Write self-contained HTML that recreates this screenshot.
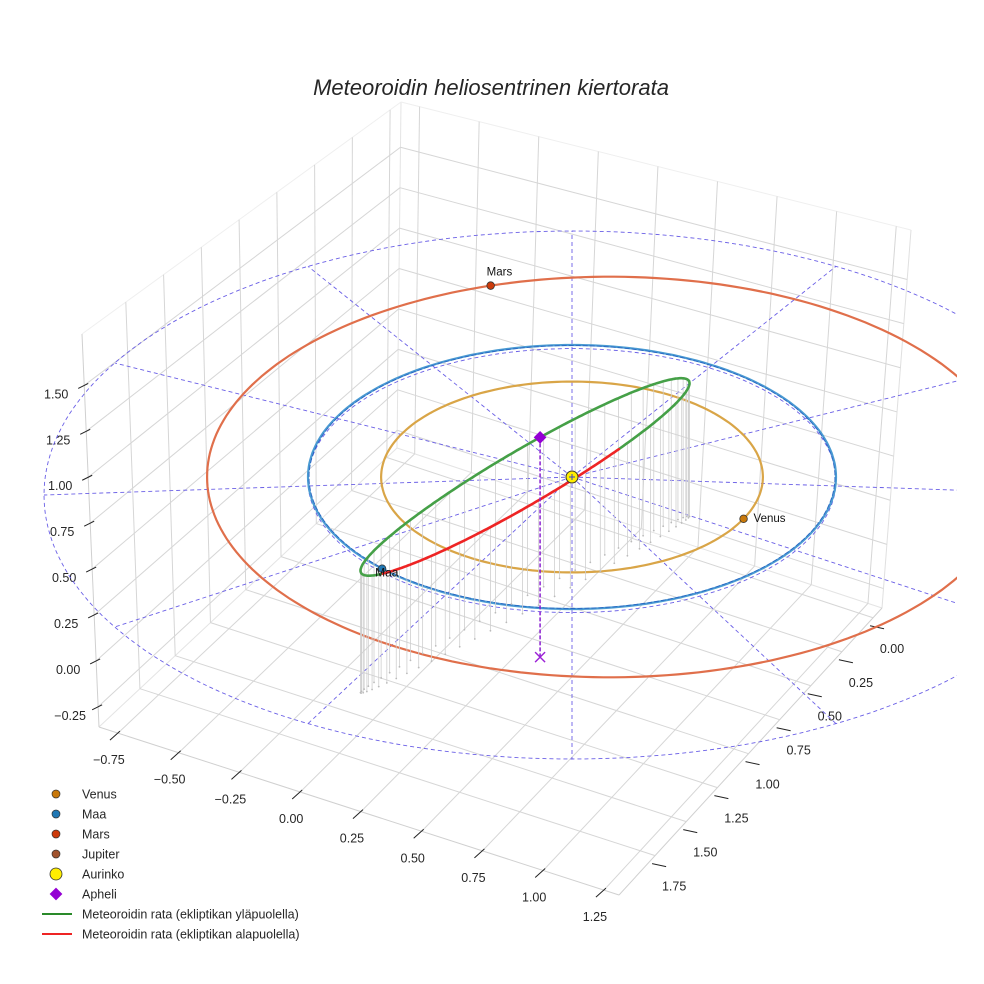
<!DOCTYPE html>
<html><head><meta charset="utf-8"><style>
html,body{margin:0;padding:0;background:#fff;}
svg{display:block;font-family:"Liberation Sans",sans-serif;}
</style></head><body>
<svg id="chart" width="984" height="984" viewBox="0 0 984 984" xmlns="http://www.w3.org/2000/svg">
<defs><clipPath id="plotclip"><rect x="0" y="60" width="957" height="924"/></clipPath></defs>
<text x="491" y="95" text-anchor="middle" font-size="22" font-style="italic" fill="#262626">Meteoroidin heliosentrinen kiertorata</text>
<g id="box"></g>
<g id="scene" clip-path="url(#plotclip)"></g>
<g id="legend"></g>
</svg>
<script>
// ---- data ----
const xTicks = [-0.75,-0.5,-0.25,0,0.25,0.5,0.75,1,1.25];
const yTicks = [0,0.25,0.5,0.75,1,1.25,1.5,1.75];
const zTicks = [-0.25,0,0.25,0.5,0.75,1,1.25,1.5];
const planetNames = ["Venus","Maa","Mars"];
const planetA = [0.723,1.0,1.524];          // semi-major axes (AU)
const planetE = [0.0,0.0,0.093];            // eccentricities
const planetAngleDeg = [26,136,-102];       // current heliocentric angle
const refRadius = [2.0,1.0];                // dashed reference circles
const refZ = [-0.1,-0.02];
const radialAnglesDeg = [0,30,60,90,120,150,180,210,240,270,300,330];
// meteoroid orbit: centre, axis A, axis B (AU, 3D)
const metCenter = [-0.178,0.121,0.089];
const metAxisA = [0.621,-0.671,0.041];
const metAxisB = [0.0515,0.004,-0.1265];
const aphelionT = -80; // deg parameter of aphelion
const floorZ = -0.62;

const NS="http://www.w3.org/2000/svg";
function mk(parent,tag,attrs){const e=document.createElementNS(NS,tag);for(const k in attrs)e.setAttribute(k,attrs[k]);parent.appendChild(e);return e;}

// ---- box axis function (trilinear on projected corners) ----
const X0=-0.828,X1=1.312,Y0=-0.072,Y1=2.04,Z0=-0.36,Z1=1.78;
const C={ '000':[397,448],'010':[99,727],'100':[882,608],'110':[619,895],
          '001':[401,102],'011':[82,334],'101':[911,230],'111':[605,468]};
function B(x,y,z){
  const u=(x-X0)/(X1-X0),v=(y-Y0)/(Y1-Y0),w=(z-Z0)/(Z1-Z0);
  let px=0,py=0;
  for(const a of [0,1])for(const b of [0,1])for(const c of [0,1]){
    const f=(a?u:1-u)*(b?v:1-v)*(c?w:1-w);const p=C[''+a+b+c];px+=f*p[0];py+=f*p[1];}
  return [px,py];
}
const box=document.getElementById('box');
function bl(p,q,col,w,name){const l=mk(box,'line',{x1:p[0],y1:p[1],x2:q[0],y2:q[1],stroke:col,'stroke-width':w});
  
  return l;}
const GC="#d6d6d6";
bl(B(X0,Y1,Z0),B(X0,Y0,Z0),"#e4e4e4",1,'pane-edge');
bl(B(X0,Y0,Z0),B(X1,Y0,Z0),"#e4e4e4",1,'pane-edge');
bl(B(X0,Y0,Z0),B(X0,Y0,Z1),"#e4e4e4",1,'pane-edge');
bl(B(X0,Y1,Z1),B(X0,Y0,Z1),"#efefef",1,'pane-edge');
bl(B(X0,Y0,Z1),B(X1,Y0,Z1),"#efefef",1,'pane-edge');
bl(B(X0,Y1,Z0),B(X0,Y1,Z1),"#d0d0d0",1,'pane-edge');
bl(B(X1,Y0,Z0),B(X1,Y0,Z1),"#e0e0e0",1,'pane-edge');
bl(B(X0,Y1,Z0),B(X1,Y1,Z0),"#d0d0d0",1,'pane-edge');
bl(B(X1,Y1,Z0),B(X1,Y0,Z0),"#d0d0d0",1,'pane-edge');
xTicks.forEach(x=>{bl(B(x,Y0,Z0),B(x,Y0,Z1),GC,1,'x-gridline-wall');bl(B(x,Y0,Z0),B(x,Y1,Z0),GC,1,'x-gridline-floor');});
yTicks.forEach(y=>{bl(B(X0,y,Z0),B(X0,y,Z1),GC,1,'y-gridline-wall');bl(B(X0,y,Z0),B(X1,y,Z0),GC,1,'y-gridline-floor');});
zTicks.forEach(z=>{bl(B(X0,Y1,z),B(X0,Y0,z),GC,1,'z-gridline-left');bl(B(X0,Y0,z),B(X1,Y0,z),GC,1,'z-gridline-back');});
function lab(p,txt,name,anchor){const t=mk(box,'text',{x:p[0],y:p[1],'font-size':12.5,fill:'#262626','text-anchor':anchor||'middle'});t.textContent=txt;
  
  }
function fmt(v){return (v<0?'\u2212':'')+Math.abs(v).toFixed(2);}
xTicks.forEach(x=>{const e=B(x,Y1,Z0);bl([e[0]+2,e[1]-2],[e[0]-8,e[1]+7],'#222',1,'x-tick');lab([e[0]-9,e[1]+31],fmt(x),'x-tick-label');});
yTicks.forEach(y=>{const e=B(X1,y,Z0);bl([e[0]-3,e[1]+8],[e[0]+11,e[1]+11],'#222',1,'y-tick');lab([e[0]+19,e[1]+35],fmt(y),'y-tick-label');});
zTicks.forEach(z=>{const e=B(X0,Y1,z);bl([e[0]-6,e[1]+3],[e[0]+4,e[1]-2],'#222',1,'z-tick');lab([e[0]-28,e[1]+13],fmt(z),'z-tick-label');});

// ---- scene projection ----
const P0={cx:572,cy:477,sx:264,sy:132,sz:180};
function P(x,y,z){return [P0.cx+P0.sx*x, P0.cy+P0.sy*y-P0.sz*z];}
const scene=document.getElementById('scene');
const rad=d=>d*Math.PI/180;
function pathFrom(pts){return pts.map((p,i)=>(i?'L':'M')+p[0].toFixed(1)+' '+p[1].toFixed(1)).join(' ');}
function conicR(a,e,th){return a*(1-e*e)/(1+e*Math.cos(th-Math.PI));}
function orbitPts(a,e,z){const pts=[];for(let i=0;i<=240;i++){const th=2*Math.PI*i/240;const r=conicR(a,e,th);pts.push(P(r*Math.cos(th),r*Math.sin(th),z));}return pts;}

refRadius.forEach((r,i)=>{const p=mk(scene,'path',{d:pathFrom(orbitPts(r,0,refZ[i])),fill:'none',stroke:'#6a5fe6','stroke-width':0.9,'stroke-dasharray':'4 3'});
  
  });
radialAnglesDeg.forEach(d=>{const s=P(0,0,0),e=P(refRadius[0]*Math.cos(rad(d)),refRadius[0]*Math.sin(rad(d)),refZ[0]);
  const l=mk(scene,'line',{x1:s[0],y1:s[1],x2:e[0],y2:e[1],stroke:'#6a5fe6','stroke-width':0.9,'stroke-dasharray':'4 3'});
  
  });

const orbitCols=['#d9a547','#4a9bd2','#e06f4b'];
planetA.forEach((a,i)=>{
  const p=mk(scene,'path',{d:pathFrom(orbitPts(a,planetE[i],0)),fill:'none',stroke:orbitCols[i],'stroke-width':2.2});
  
  
  if(i===1){const q=mk(scene,'path',{d:pathFrom(orbitPts(a*0.996,0,0)),fill:'none',stroke:'#2a66c4','stroke-width':0.9,'stroke-dasharray':'5 2'});
    
    }
});

function met(tDeg){const t=rad(tDeg),c=Math.cos(t),s=Math.sin(t);
  return [0,1,2].map(k=>metCenter[k]+metAxisA[k]*c+metAxisB[k]*s);}
for(let i=0;i<64;i++){const q=met(i*360/64);const top=P(q[0],q[1],q[2]);const bot=P(q[0],q[1],floorZ);
  const l=mk(scene,'line',{x1:top[0],y1:top[1],x2:bot[0],y2:bot[1],stroke:'#cfcfcf','stroke-width':0.8});
  
  
  const d=mk(scene,'circle',{cx:bot[0],cy:bot[1],r:0.9,fill:'#bbb'});
  
  }
let seg=[],segUp=null;
function flush(){if(seg.length>1){const p=mk(scene,'path',{d:pathFrom(seg),fill:'none',stroke:segUp?'#45a047':'#ee2424','stroke-width':2.6,'stroke-linecap':'round'});
  
  }}
for(let i=0;i<=360;i++){const q=met(i);const up=q[2]>=0;const pt=P(q[0],q[1],q[2]);
  if(segUp===null)segUp=up;
  if(up!==segUp){seg.push(pt);flush();seg=[pt];segUp=up;}else seg.push(pt);}
flush();

const ap=met(aphelionT);const apS=P(ap[0],ap[1],ap[2]);const apF=P(ap[0],ap[1],-1);
let e=mk(scene,'line',{x1:apS[0],y1:apS[1],x2:apF[0],y2:apF[1],stroke:'#8a1fd0','stroke-width':1.5,'stroke-dasharray':'4 2'});


e=mk(scene,'path',{d:`M${apF[0]-5} ${apF[1]-5}L${apF[0]+5} ${apF[1]+5}M${apF[0]+5} ${apF[1]-5}L${apF[0]-5} ${apF[1]+5}`,stroke:'#9b1fd6','stroke-width':1.4});


e=mk(scene,'rect',{x:apS[0]-4.5,y:apS[1]-4.5,width:9,height:9,fill:'#9400d3',transform:`rotate(45 ${apS[0]} ${apS[1]})`});



const sun=P(0,0,0);
e=mk(scene,'circle',{cx:sun[0],cy:sun[1],r:6,fill:'#ffee00',stroke:'#333','stroke-width':1});


e=mk(scene,'path',{d:`M${sun[0]-3} ${sun[1]}H${sun[0]+3}M${sun[0]} ${sun[1]-3}V${sun[1]+3}`,stroke:'#3344cc','stroke-width':1});



const planetCols=['#c8780a','#1f77b4','#cc3a0a'];
const labOff=[[10,3],[-7,8],[-4,-10]];
planetA.forEach((a,i)=>{const th=rad(planetAngleDeg[i]);const r=conicR(a,planetE[i],th);const p=P(r*Math.cos(th),r*Math.sin(th),0);
  const c=mk(scene,'circle',{cx:p[0],cy:p[1],r:3.8,fill:planetCols[i],stroke:'#333','stroke-width':0.8});
  
  
  const t=mk(scene,'text',{x:p[0]+labOff[i][0],y:p[1]+labOff[i][1],'font-size':i===1?12:11.5,fill:'#111'});t.textContent=planetNames[i];
  
  });

const legendLabels=['Venus','Maa','Mars','Jupiter','Aurinko','Apheli','Meteoroidin rata (ekliptikan yläpuolella)','Meteoroidin rata (ekliptikan alapuolella)'];
const legendCols=['#c8780a','#1f77b4','#cc3a0a','#a0522d','#ffee00','#9400d3','#2a8a2a','#ee2424'];
const lg=document.getElementById('legend');
legendLabels.forEach((txt,i)=>{const y=794+20*i;
  const g=mk(lg,'g',{});
  
  
  if(i<4)mk(g,'circle',{cx:56,cy:y,r:4,fill:legendCols[i],stroke:'#333','stroke-width':0.7});
  else if(i===4)mk(g,'circle',{cx:56,cy:y,r:6,fill:legendCols[i],stroke:'#333','stroke-width':0.8});
  else if(i===5)mk(g,'rect',{x:51.5,y:y-4.5,width:9,height:9,fill:legendCols[i],transform:`rotate(45 56 ${y})`});
  else mk(g,'line',{x1:42,y1:y,x2:72,y2:y,stroke:legendCols[i],'stroke-width':2});
  const t=mk(g,'text',{x:82,y:y+4.5,'font-size':12.5,fill:'#262626'});t.textContent=txt;});
</script>
</body></html>
